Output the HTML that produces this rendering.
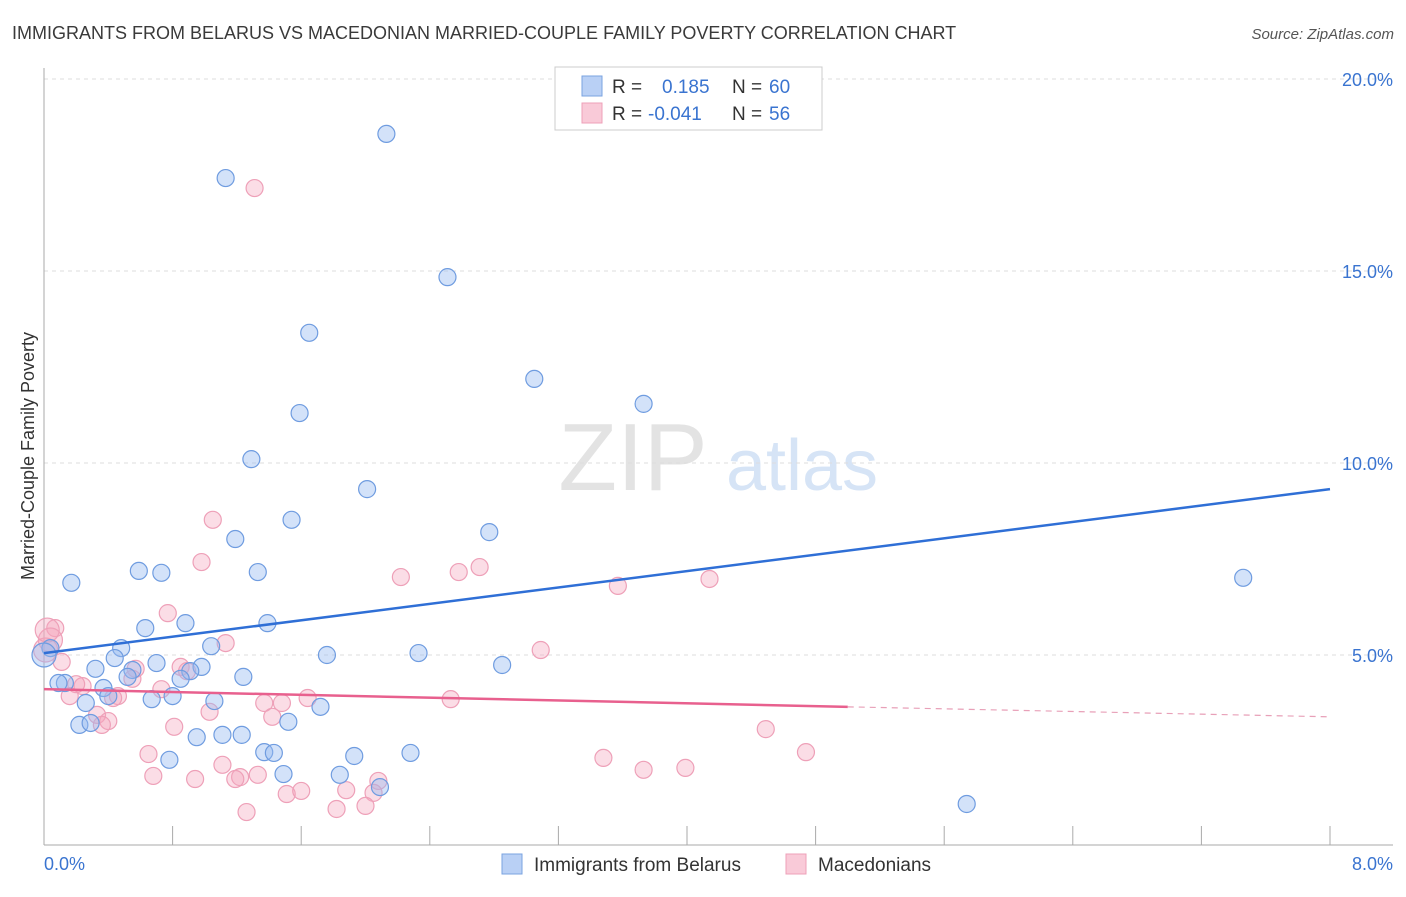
<!DOCTYPE html>
<html><head><meta charset="utf-8"><style>
body{margin:0;background:#fff;font-family:"Liberation Sans",sans-serif;}
svg text{font-family:"Liberation Sans",sans-serif;}
</style></head><body>
<svg id="chart" width="1406" height="892" xmlns="http://www.w3.org/2000/svg">
<text x="12" y="39" font-size="18" fill="#3a3a3a">IMMIGRANTS FROM BELARUS VS MACEDONIAN MARRIED-COUPLE FAMILY POVERTY CORRELATION CHART</text>
<text x="1394" y="39" font-size="15" fill="#555" text-anchor="end" font-style="italic">Source: ZipAtlas.com</text>
<text transform="translate(34,456) rotate(-90)" font-size="18" fill="#333" text-anchor="middle">Married-Couple Family Poverty</text>
<g>
<text x="633" y="490" font-size="96" fill="#e3e3e3" text-anchor="middle" font-family="Liberation Serif">ZIP</text>
<text x="802" y="490" font-size="72" fill="#d6e4f6" text-anchor="middle">atlas</text>
</g>
<g id="grid"></g><g id="axes"></g><g id="pink"></g><g id="blue"></g><g id="lines"></g>
<g>
<rect x="555" y="67" width="267" height="63" fill="#fff" stroke="#ccc"/>
<rect x="582" y="76" width="20" height="20" fill="#b9d0f5" stroke="#7aa3e0"/>
<rect x="582" y="103" width="20" height="20" fill="#f9cad8" stroke="#eea0b8"/>
<text x="612" y="93" font-size="19" fill="#333">R =</text>
<text x="662" y="93" font-size="19" fill="#3a74d0">0.185</text>
<text x="732" y="93" font-size="19" fill="#333">N =</text>
<text x="769" y="93" font-size="19" fill="#3a74d0">60</text>
<text x="612" y="120" font-size="19" fill="#333">R =</text>
<text x="648" y="120" font-size="19" fill="#3a74d0">-0.041</text>
<text x="732" y="120" font-size="19" fill="#333">N =</text>
<text x="769" y="120" font-size="19" fill="#3a74d0">56</text>
</g>
<g>
<rect x="502" y="854" width="20" height="20" fill="#b9d0f5" stroke="#7aa3e0"/>
<text x="534" y="871" font-size="19" fill="#333">Immigrants from Belarus</text>
<rect x="786" y="854" width="20" height="20" fill="#f9cad8" stroke="#eea0b8"/>
<text x="818" y="871" font-size="19" fill="#333">Macedonians</text>
</g>
</svg>
<script>
const yTicks=[5,10,15,20];
const yTickLabels=["5.0%","10.0%","15.0%","20.0%"];
const xTickLabels=["0.0%","8.0%"];
const blueX=[2.13,1.13,2.51,1.65,3.05,3.73,1.59,1.29,2.01,1.54,2.77,1.19,0.59,0.73,1.33,0.17,7.46,0.63,0.88,1.39,0.48,1.04,0.04,1.76,2.33,0.70,0.44,0.98,0.32,2.85,0.55,0.91,1.24,0.85,0.52,0.13,0.09,0.37,0.40,0.80,0.67,1.06,0.26,1.72,1.52,0.22,0.29,0.95,1.11,1.23,1.37,1.43,2.28,1.93,0.78,1.49,1.84,2.09,5.74,0.0];
const blueY=[18.57,17.42,14.84,13.39,12.19,11.54,11.30,10.10,9.32,8.52,8.20,8.02,7.19,7.14,7.16,6.88,7.01,5.70,5.83,5.83,5.18,5.23,5.18,5.00,5.05,4.79,4.92,4.69,4.64,4.74,4.61,4.58,4.43,4.38,4.43,4.27,4.27,4.14,3.93,3.93,3.85,3.80,3.75,3.65,3.26,3.18,3.23,2.86,2.92,2.92,2.47,2.45,2.45,2.37,2.27,1.90,1.88,1.56,1.12,5.00];
const pinkX=[1.31,1.05,0.98,2.22,2.58,2.71,3.57,4.14,0.77,0.07,1.13,3.09,0.11,0.85,0.89,0.57,0.55,0.73,0.24,0.20,0.16,0.46,0.43,1.64,1.37,1.48,2.53,1.03,0.33,1.42,0.40,0.36,0.81,4.49,0.65,4.74,3.48,3.73,3.99,1.11,0.68,1.22,1.33,0.94,1.19,2.08,1.88,1.51,1.60,2.05,2.00,1.82,1.26,0.04,0.01,0.02];
const pinkY=[17.16,8.52,7.42,7.03,7.16,7.29,6.80,6.98,6.09,5.70,5.31,5.13,4.82,4.69,4.58,4.64,4.38,4.11,4.19,4.24,3.93,3.93,3.88,3.88,3.75,3.75,3.85,3.52,3.44,3.39,3.28,3.18,3.13,3.07,2.42,2.47,2.32,2.01,2.06,2.14,1.85,1.82,1.88,1.77,1.77,1.72,1.48,1.38,1.46,1.41,1.07,0.99,0.91,5.39,5.13,5.65];
const blueBig=[59];
const pinkBig=[53,54,55];
const blueTrend=[5.05,9.32];
const pinkTrend=[4.11,3.65,3.39];
const pinkSolidEnd=5.0;

const NS="http://www.w3.org/2000/svg";
const X0=44,X1=1330,Y0=847,PX=38.4;
const sx=v=>X0+(X1-X0)*v/8;
const sy=v=>Y0-v*PX;
function mk(tag,attrs,parent){const e=document.createElementNS(NS,tag);for(const k in attrs)e.setAttribute(k,attrs[k]);document.getElementById(parent).appendChild(e);return e;}
yTicks.forEach((t,i)=>{
  const l=mk('line',{x1:44,x2:1393,y1:sy(t),y2:sy(t),stroke:'#ddd','stroke-dasharray':'4,4'},'grid');
  
  
  const tx=mk('text',{x:1393,y:sy(t)+7,'font-size':18,fill:'#3a74d0','text-anchor':'end'},'grid');
  tx.textContent=yTickLabels[i];
  
  
});
let a=mk('line',{x1:44,x2:44,y1:68,y2:845,stroke:'#aaa'},'axes');


a=mk('line',{x1:44,x2:1393,y1:845,y2:845,stroke:'#aaa'},'axes');


for(let i=1;i<=10;i++){
  const t=mk('line',{x1:sx(i*0.8),x2:sx(i*0.8),y1:826,y2:845,stroke:'#aaa'},'axes');
  
  
}
[[0,44,'start'],[8,1393,'end']].forEach((d,i)=>{
  const t=mk('text',{x:d[1],y:870,'font-size':18,fill:'#3a74d0','text-anchor':d[2]},'axes');
  t.textContent=xTickLabels[i];
  
  
});
pinkX.forEach((x,i)=>{
  const c=mk('circle',{cx:sx(x),cy:sy(pinkY[i]),r:pinkBig.includes(i)?12:8.5,fill:'rgba(245,165,190,0.38)',stroke:'#eea0b8','stroke-width':1.2},'pink');
  
  
});
blueX.forEach((x,i)=>{
  const c=mk('circle',{cx:sx(x),cy:sy(blueY[i]),r:blueBig.includes(i)?12:8.5,fill:'rgba(150,185,240,0.42)',stroke:'#6f9ce0','stroke-width':1.2},'blue');
  
  
});
let ln=mk('line',{x1:sx(0),y1:sy(blueTrend[0]),x2:sx(8),y2:sy(blueTrend[1]),stroke:'#2f6fd6','stroke-width':2.5},'lines');


ln=mk('line',{x1:sx(0),y1:sy(pinkTrend[0]),x2:sx(pinkSolidEnd),y2:sy(pinkTrend[1]),stroke:'#e8608e','stroke-width':2.5},'lines');


ln=mk('line',{x1:sx(pinkSolidEnd),y1:sy(pinkTrend[1]),x2:sx(8),y2:sy(pinkTrend[2]),stroke:'#e8a0b8','stroke-width':1.2,'stroke-dasharray':'6,5'},'lines');


</script>
</body></html>
